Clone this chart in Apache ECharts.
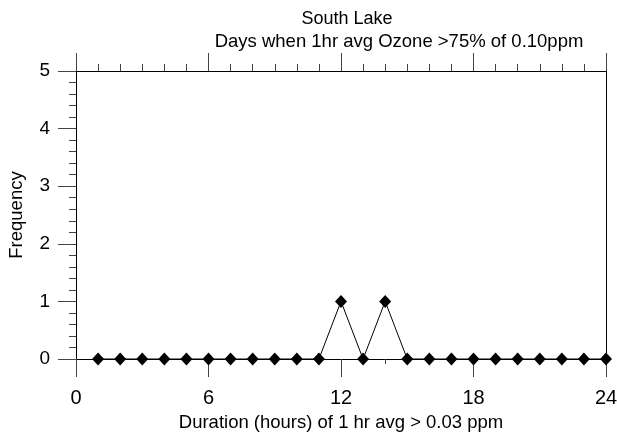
<!DOCTYPE html>
<html><head><meta charset="utf-8">
<script src="https://cdn.jsdelivr.net/npm/echarts@6/dist/echarts.min.js"></script>
<style>html,body{margin:0;padding:0;background:#fff}#c{width:617px;height:441px}</style>
</head><body><div id="c"></div>
<script>
const durations = [1,2,3,4,5,6,7,8,9,10,11,12,13,14,15,16,17,18,19,20,21,22,23,24];
const frequency = [0,0,0,0,0,0,0,0,0,0,0,1,0,1,0,0,0,0,0,0,0,0,0,0];
const titleText = 'South Lake';
const subtitleText = 'Days when 1hr avg Ozone >75% of 0.10ppm';
const xName = 'Duration (hours) of 1 hr avg > 0.03 ppm';
const yName = 'Frequency';

const font = 'Liberation Sans, Arial, sans-serif';
const chart = echarts.init(document.getElementById('c'), null, {renderer:'canvas'});
const lineCol = '#000';
const tickCol = '#444';
chart.setOption({
  animation:false,
  backgroundColor:'#fff',
  title:[
    {text:titleText, left:342, top:5, textAlign:'center', textStyle:{fontFamily:font,fontSize:18,fontWeight:'normal',color:'#000'}},
    {text:subtitleText, left:394, top:27, textAlign:'center', textStyle:{fontFamily:font,fontSize:18.5,fontWeight:'normal',color:'#000'}}
  ],
  grid:{left:76,right:11,top:71,bottom:82,containLabel:false,outerBoundsMode:'none'},
  xAxis:[
    {type:'value',position:'bottom',min:0,max:24,interval:6,
     name:xName,nameLocation:'middle',nameGap:54,
     nameTextStyle:{fontFamily:font,fontSize:18.5,color:'#000'},
     axisLine:{show:true,onZero:false,lineStyle:{color:lineCol,width:1}},
     axisTick:{show:true,inside:false,length:18,lineStyle:{color:tickCol}},
     minorTick:{show:true,splitNumber:6,length:5,lineStyle:{color:tickCol}},
     axisLabel:{margin:29,fontFamily:font,fontSize:20,color:'#000'},
     splitLine:{show:false}},
    {type:'value',position:'top',min:0,max:24,interval:6,
     axisLine:{show:true,onZero:false,lineStyle:{color:lineCol,width:1}},
     axisTick:{show:true,inside:false,length:18,lineStyle:{color:tickCol}},
     minorTick:{show:true,splitNumber:6,length:7,lineStyle:{color:tickCol}},
     axisLabel:{show:false},splitLine:{show:false}}
  ],
  yAxis:[
    {type:'value',position:'left',min:0,max:5,interval:1,
     name:yName,nameLocation:'middle',nameGap:50,
     nameTextStyle:{fontFamily:font,fontSize:18.5,color:'#000'},
     axisLine:{show:true,onZero:false,lineStyle:{color:lineCol,width:1}},
     axisTick:{show:true,inside:false,length:18,lineStyle:{color:tickCol}},
     minorTick:{show:true,splitNumber:5,length:7,lineStyle:{color:tickCol}},
     axisLabel:{margin:26,fontFamily:font,fontSize:19,color:'#000'},
     splitLine:{show:false}},
    {type:'value',position:'right',min:0,max:5,interval:1,
     axisLine:{show:true,onZero:false,lineStyle:{color:lineCol,width:1}},
     axisTick:{show:false},minorTick:{show:false},
     axisLabel:{show:false},splitLine:{show:false}}
  ],
  series:[{
    type:'line',xAxisIndex:0,yAxisIndex:0,
    data:durations.map((d,i)=>[d,frequency[i]]),
    symbol:'diamond',symbolSize:[12,13],
    itemStyle:{color:'#000'},
    lineStyle:{color:'#000',width:1},
    clip:false
  }]
});
</script></body></html>
